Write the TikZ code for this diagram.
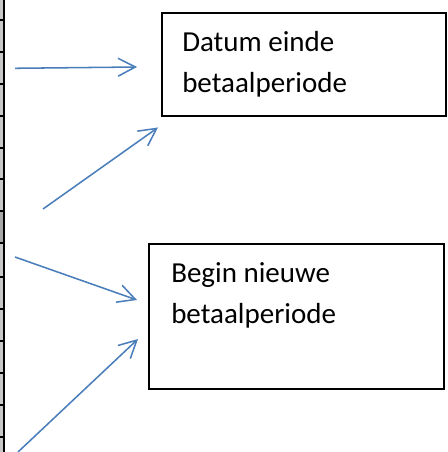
\documentclass[tikz,border=0pt]{standalone}
\usepackage{fontspec}
\setmainfont{Carlito}
\usetikzlibrary{arrows.meta}
\definecolor{wordblue}{HTML}{4A7EBB}
\definecolor{stripgray}{HTML}{C8C8C8}
\definecolor{selgray}{HTML}{A8A8A8}
\tikzset{
  box/.style={draw=black, line width=0.8pt, rectangle, inner sep=0pt},
  label/.style={anchor=base west, inner sep=0pt, font=\fontsize{21.75}{26}\selectfont},
  link/.style={draw=wordblue, line width=1.15pt, -{Straight Barb[length=13pt,width=13.5pt,line width=1.15pt]}},
  tick/.style={draw=black, line width=1pt}
}
\begin{document}
\begin{tikzpicture}[x=0.75pt,y=-0.75pt]
\useasboundingbox (0,0) rectangle (448,452);
% left strip
\fill[stripgray] (0,0) rectangle (3.6,452);
\fill[selgray] (0,211) rectangle (3.6,243);
\draw[black, line width=1.2pt] (4.2,0) -- (4.2,452);
\foreach \yy in {20,52,84,116,148,179,211,243,277,309,341,373,405,437}
  \draw[tick] (0,\yy) -- (5,\yy);
% boxes
\node[box, minimum width=213pt, minimum height=77.25pt] (b1) at (304,64.5) {};
\node[box, minimum width=221.25pt, minimum height=108.75pt] (b2) at (296.5,316.5) {};
% texts
\node[label] (t1a) at (182,52) {Datum einde};
\node[label] (t1b) at (182,93) {betaalperiode};
\node[label] (t2a) at (171,282) {Begin nieuwe};
\node[label] (t2b) at (171,323) {betaalperiode};
% arrow ends
\coordinate (s1) at (15,68.3);  \coordinate (e1) at (137,67);
\coordinate (s2) at (43,209);   \coordinate (e2) at (158,127.5);
\coordinate (s3) at (15,257);   \coordinate (e3) at (137,300);
\coordinate (s4) at (18,452);   \coordinate (e4) at (138,339);
\draw[link] (s1) -- (e1);
\draw[link] (s2) -- (e2);
\draw[link] (s3) -- (e3);
\draw[link] (s4) -- (e4);
\end{tikzpicture}
\end{document}
